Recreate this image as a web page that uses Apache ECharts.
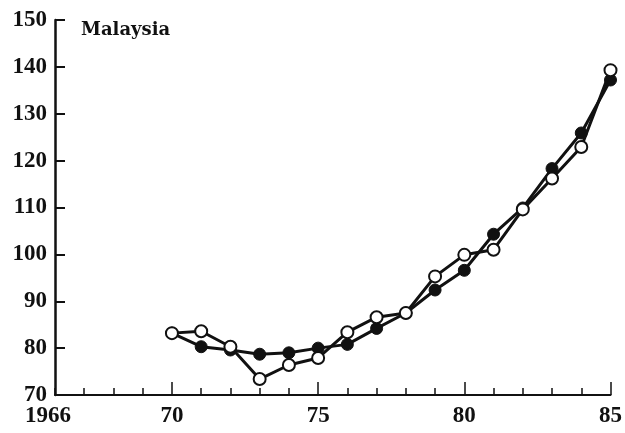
<!DOCTYPE html>
<html><head><meta charset="utf-8">
<script src="https://cdn.jsdelivr.net/npm/echarts@6/dist/echarts.min.js"></script>
<style>html,body{margin:0;padding:0;background:#fff}#c{width:625px;height:433px}</style>
</head><body><div id="c"></div>
<script>
const years = [1970,1971,1972,1973,1974,1975,1976,1977,1978,1979,1980,1981,1982,1983,1984,1985];
const openValues = [83.2,83.6,80.3,73.4,76.4,77.9,83.4,86.6,87.5,95.3,99.9,101.0,109.6,116.2,122.9,139.3];
const filledValues = [83.2,80.3,79.6,78.7,79.0,80.0,80.8,84.2,87.5,92.4,96.6,104.3,109.9,118.3,125.9,137.2];
const xLabelValues = [1966,1970,1975,1980,1985];
const xMajorTicks = [1970,1975,1980,1985];
const title = 'Malaysia';

const font = 'Liberation Serif';
const lblSize = 23;
const chart = echarts.init(document.getElementById('c'), null, {renderer:'canvas'});
const pts = (vals) => years.map((y,i)=>[y, vals[i]]);
chart.setOption({
  animation:false,
  backgroundColor:'#fff',
  title:{text:title, left:81, top:21, padding:0, textStyle:{fontFamily:'DejaVu Serif', fontSize:18, fontWeight:'bold', color:'#111'}},
  grid:{left:55, right:13, top:20, bottom:38, containLabel:false},
  xAxis:[{
    type:'value', min:1966, max:1985, interval:1,
    axisLine:{lineStyle:{color:'#111', width:2}},
    axisTick:{inside:true, length:7, lineStyle:{color:'#111', width:1.5}},
    splitLine:{show:false},
    axisLabel:{
      customValues:xLabelValues, margin:10,
      fontFamily:font, fontSize:lblSize, fontWeight:'bold', color:'#111',
      formatter:(v)=> v===1966 ? '{a|1966}' : String(v).slice(2),
      rich:{a:{fontFamily:font, fontSize:lblSize, fontWeight:'bold', color:'#111', padding:[0,14,0,0]}}
    }
  },{
    type:'value', min:1966, max:1985, interval:1, position:'bottom',
    axisLine:{show:false},
    axisTick:{inside:true, length:13, customValues:xMajorTicks, lineStyle:{color:'#111', width:1.5}},
    axisLabel:{show:false}, splitLine:{show:false}
  }],
  yAxis:{
    type:'value', min:70, max:150, interval:10,
    axisLine:{show:true, lineStyle:{color:'#111', width:2.5}},
    axisTick:{show:true, inside:true, length:10, lineStyle:{color:'#111', width:2}},
    splitLine:{show:false},
    axisLabel:{margin:8, fontFamily:font, fontSize:lblSize, fontWeight:'bold', color:'#111'}
  },
  series:[{
    type:'line', data:pts(filledValues), symbol:'circle', symbolSize:12, z:2,
    lineStyle:{color:'#111', width:3}, itemStyle:{color:'#111', borderColor:'#111', borderWidth:1}
  },{
    type:'line', data:pts(openValues), symbol:'circle', symbolSize:12, z:3,
    lineStyle:{color:'#111', width:3}, itemStyle:{color:'#fff', borderColor:'#111', borderWidth:2}
  }]
});
</script></body></html>
